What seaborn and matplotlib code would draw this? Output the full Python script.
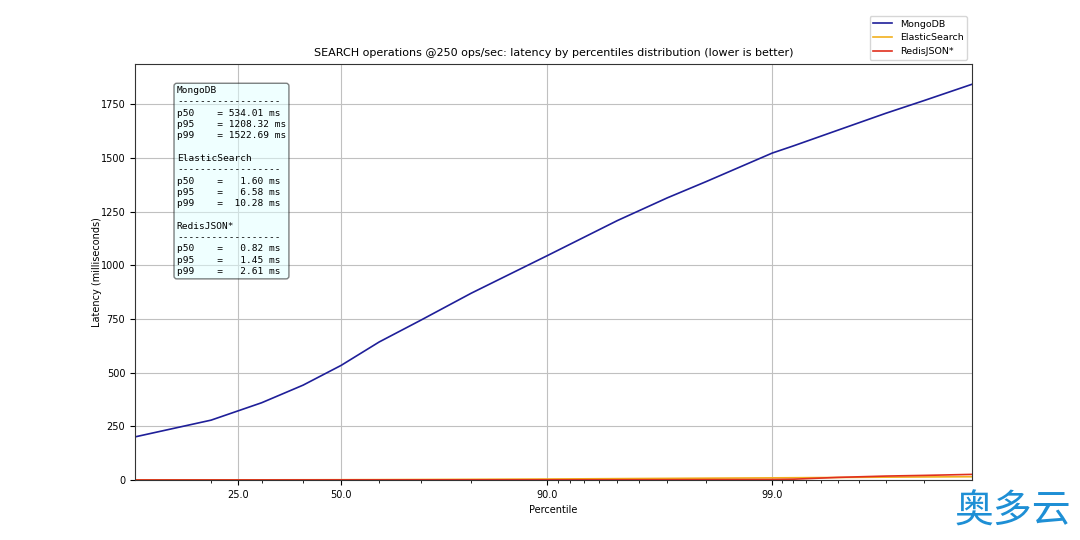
import matplotlib
matplotlib.use("Agg")
import matplotlib.pyplot as plt
from matplotlib.ticker import NullFormatter
import pandas as pd
import seaborn as sns

# ---- data ----
percentiles = [10, 20, 30, 40, 50, 60, 70, 80, 90, 95, 97, 98, 99, 99.2, 99.5, 99.7, 99.8, 99.88]
mongodb = [201, 279, 360, 442, 534.01, 643, 744, 870, 1045, 1208.32, 1314, 1390, 1522.69, 1556, 1629, 1708, 1767, 1843]
elastic = [0.6, 0.8, 1.0, 1.3, 1.60, 2.0, 2.6, 3.4, 4.8, 6.58, 7.8, 8.8, 10.28, 10.8, 12.0, 13.5, 14.5, 15.5]
redisjson = [0.45, 0.55, 0.62, 0.72, 0.82, 0.9, 1.0, 1.1, 1.25, 1.45, 1.7, 2.0, 2.61, 4.0, 12.4, 18.6, 21.7, 26.4]

series_names = ["MongoDB", "ElasticSearch", "RedisJSON*"]
series_values = [mongodb, elastic, redisjson]
series_colors = ["#1f1f99", "#f2b01e", "#e0301e"]

tick_values = [25, 50, 90, 99]
tick_labels = ["25.0", "50.0", "90.0", "99.0"]

stats = {
    "MongoDB": [534.01, 1208.32, 1522.69],
    "ElasticSearch": [1.60, 6.58, 10.28],
    "RedisJSON*": [0.82, 1.45, 2.61],
}

title = "SEARCH operations @250 ops/sec: latency by percentiles distribution (lower is better)"

# ---- build long-form table ----
rows = []
for name, vals in zip(series_names, series_values):
    for p, v in zip(percentiles, vals):
        rows.append({"pct": p / 100.0, "latency": v, "db": name})
df = pd.DataFrame(rows)

fig = plt.figure(figsize=(10.8, 5.4), dpi=100)
ax = fig.add_axes([0.125, 0.111, 0.775, 0.7696])

sns.lineplot(data=df, x="pct", y="latency", hue="db", hue_order=series_names,
             palette=dict(zip(series_names, series_colors)), linewidth=1.2, ax=ax)

ax.set_xscale("logit")
ax.set_xlim(percentiles[0] / 100.0, percentiles[-1] / 100.0)
ax.set_xticks([t / 100.0 for t in tick_values])
ax.set_xticklabels(tick_labels)
ax.xaxis.set_minor_formatter(NullFormatter())
ax.set_ylim(0, max(mongodb) * 1.05)
ax.set_yticks(range(0, 1751, 250))

ax.grid(True, which="major", color="#c0c0c0", linewidth=0.8)
ax.tick_params(axis="both", which="major", labelsize=7)
ax.set_xlabel("Percentile", fontsize=7)
ax.set_ylabel("Latency (milliseconds)", fontsize=7, labelpad=-1)
ax.set_title(title, fontsize=8)
for s in ax.spines.values():
    s.set_color("#333333")

handles, labels = ax.get_legend_handles_labels()
ax.legend(handles, labels, loc="lower right", bbox_to_anchor=(1.0, 1.0),
          fontsize=6.8, framealpha=0.8, borderaxespad=0.5)

# ---- stats text box ----
lines = []
for name in series_names:
    p50, p95, p99 = stats[name]
    lines.append(name)
    lines.append("-" * 18)
    lines.append("p50    = %6.2f ms" % p50)
    lines.append("p95    = %6.2f ms" % p95)
    lines.append("p99    = %6.2f ms" % p99)
    lines.append("")
txt = "\n".join(lines[:-1])
ax.text(0.05, 0.948, txt, transform=ax.transAxes, ha="left", va="top",
        family="DejaVu Sans Mono", fontsize=6.8, linespacing=1.33,
        bbox=dict(boxstyle="round", facecolor="lightcyan", alpha=0.5))

# ---- watermark ----
fig.text(0.992, 0.015, "奥多云", ha="right", va="bottom", fontsize=28,
         color="#1e8fd5", family=["Noto Sans CJK SC", "DejaVu Sans"])

fig.savefig("out.png", dpi=100)
